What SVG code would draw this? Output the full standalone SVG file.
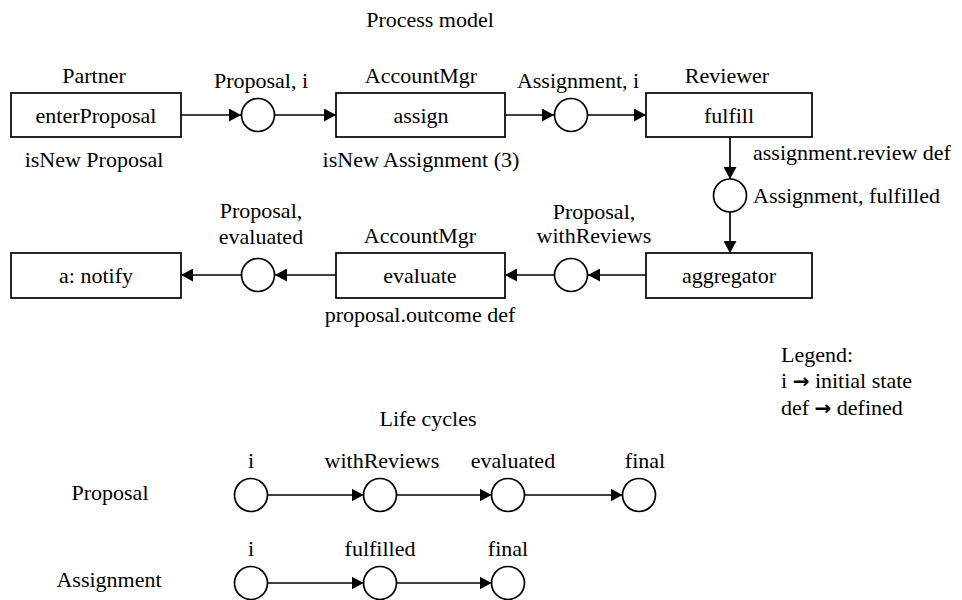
<svg xmlns="http://www.w3.org/2000/svg" width="962" height="600" viewBox="0 0 962 600">
<defs>
<style>
text{font-family:"Liberation Serif","Times New Roman",serif;font-size:22px;fill:#000}
.c{text-anchor:middle}
.box{fill:#fff;stroke:#000;stroke-width:1.7}
.st{fill:#fff;stroke:#000;stroke-width:1.7}
.ln{stroke:#000;stroke-width:1.7;fill:none;marker-end:url(#ah)}
.ar{font-family:"DejaVu Sans",sans-serif;font-size:20px;font-weight:bold}
</style>
<marker id="ah" markerUnits="userSpaceOnUse" markerWidth="12" markerHeight="13" refX="12" refY="6.5" orient="auto"><path d="M0,0 L12,6.5 L0,13 z" fill="#000"/></marker>
</defs>
<rect width="962" height="600" fill="#fff"/>
<text class="c" x="430" y="27">Process model</text>

<g id="connectors">
<line class="ln" x1="181" y1="115" x2="241" y2="115"/>
<line class="ln" x1="275" y1="115" x2="336" y2="115"/>
<line class="ln" x1="505" y1="115" x2="554" y2="115"/>
<line class="ln" x1="588" y1="115" x2="646" y2="115"/>
<line class="ln" x1="730" y1="137" x2="730" y2="179"/>
<line class="ln" x1="730" y1="212" x2="730" y2="253"/>
<line class="ln" x1="646" y1="275" x2="588" y2="275"/>
<line class="ln" x1="554" y1="275" x2="505" y2="275"/>
<line class="ln" x1="336" y1="275" x2="275" y2="275"/>
<line class="ln" x1="241" y1="275" x2="181" y2="275"/>
<line class="ln" x1="267.5" y1="495" x2="363.5" y2="495"/>
<line class="ln" x1="396.5" y1="495" x2="491.5" y2="495"/>
<line class="ln" x1="524.5" y1="495" x2="622.5" y2="495"/>
<line class="ln" x1="267.5" y1="583" x2="363.5" y2="583"/>
<line class="ln" x1="396.5" y1="583" x2="491.5" y2="583"/>
</g>

<g id="enterProposal">
<text class="c" x="94" y="83">Partner</text>
<rect class="box" x="11" y="93" width="170" height="44"/>
<text class="c" x="96" y="123">enterProposal</text>
<text class="c" x="94" y="167">isNew Proposal</text>
</g>
<g id="placeProposalI">
<text class="c" x="261" y="88">Proposal, i</text>
<circle class="st" cx="258" cy="115" r="16.5"/>
</g>
<g id="assign">
<text class="c" x="421" y="83">AccountMgr</text>
<rect class="box" x="336" y="93" width="169" height="44"/>
<text class="c" x="421" y="123">assign</text>
<text class="c" x="421" y="167">isNew Assignment (3)</text>
</g>
<g id="placeAssignmentI">
<text class="c" x="578" y="88">Assignment, i</text>
<circle class="st" cx="571" cy="115" r="16.5"/>
</g>
<g id="fulfill">
<text class="c" x="727" y="83">Reviewer</text>
<rect class="box" x="646" y="93" width="166" height="44"/>
<text class="c" x="729" y="123">fulfill</text>
<text x="753" y="160">assignment.review def</text>
</g>
<g id="placeAssignmentFulfilled">
<circle class="st" cx="730" cy="195.5" r="16.5"/>
<text x="753" y="203">Assignment, fulfilled</text>
</g>
<g id="aggregator">
<rect class="box" x="646" y="253" width="166" height="45"/>
<text class="c" x="729" y="283">aggregator</text>
</g>
<g id="placeProposalWithReviews">
<text class="c" x="594" y="219">Proposal,</text>
<text class="c" x="594" y="243">withReviews</text>
<circle class="st" cx="571" cy="275" r="16.5"/>
</g>
<g id="evaluate">
<text class="c" x="420" y="243">AccountMgr</text>
<rect class="box" x="336" y="253" width="169" height="45"/>
<text class="c" x="420" y="283">evaluate</text>
<text class="c" x="420" y="322">proposal.outcome def</text>
</g>
<g id="placeProposalEvaluated">
<text class="c" x="261" y="218">Proposal,</text>
<text class="c" x="261" y="244">evaluated</text>
<circle class="st" cx="258" cy="275" r="16.5"/>
</g>
<g id="notify">
<rect class="box" x="11" y="253" width="170" height="45"/>
<text class="c" x="96" y="283">a: notify</text>
</g>

<g id="legend">
<text x="781" y="362">Legend:</text>
<text x="781" y="388">i <tspan class="ar">→</tspan> initial state</text>
<text x="781" y="415">def <tspan class="ar">→</tspan> defined</text>
</g>

<text class="c" x="428" y="426">Life cycles</text>
<g id="lcProposal">
<text class="c" x="110" y="500">Proposal</text>
<text class="c" x="251" y="468">i</text>
<circle class="st" cx="251" cy="495" r="16.5"/>
<text class="c" x="382" y="468">withReviews</text>
<circle class="st" cx="380" cy="495" r="16.5"/>
<text class="c" x="513" y="468">evaluated</text>
<circle class="st" cx="508" cy="495" r="16.5"/>
<text class="c" x="645" y="468">final</text>
<circle class="st" cx="639" cy="495" r="16.5"/>
</g>
<g id="lcAssignment">
<text class="c" x="109" y="587">Assignment</text>
<text class="c" x="251" y="556">i</text>
<circle class="st" cx="251" cy="583" r="16.5"/>
<text class="c" x="380" y="556">fulfilled</text>
<circle class="st" cx="380" cy="583" r="16.5"/>
<text class="c" x="508" y="556">final</text>
<circle class="st" cx="508" cy="583" r="16.5"/>
</g>
</svg>
